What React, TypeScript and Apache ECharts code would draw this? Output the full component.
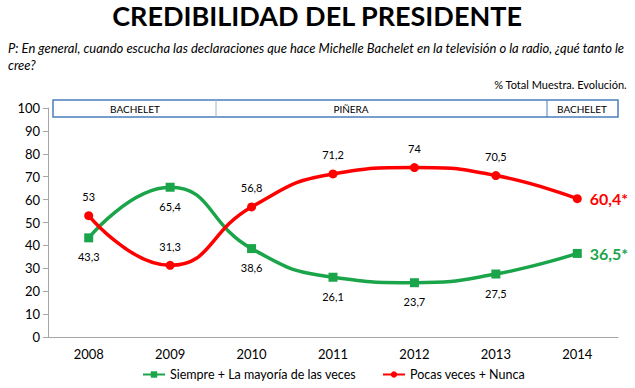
import React, { useEffect, useRef } from "react";
import * as echarts from "echarts";

const years = ["2008", "2009", "2010", "2011", "2012", "2013", "2014"];
const siempre = [43.3, 65.4, 38.6, 26.1, 23.7, 27.5, 36.5];
const pocas = [53, 31.3, 56.8, 71.2, 74, 70.5, 60.4];
const periods = ["BACHELET", "PIÑERA", "BACHELET"];
const FONT = "Lato";
const GREEN = "#1ba54b";
const RED = "#ff0000";

const fmt = (v: number) => String(v).replace(".", ",");

export default function App() {
  const ref = useRef<HTMLDivElement>(null);
  useEffect(() => {
    const chart = echarts.init(ref.current!, null, { renderer: "svg" });
    const last = years.length - 1;
    chart.setOption({
      animation: false,
      textStyle: { fontFamily: FONT },
      grid: { left: 48, right: 17, top: 108, bottom: 51 },
      xAxis: {
        type: "category",
        data: years,
        boundaryGap: true,
        axisLine: { lineStyle: { color: "#a6a6a6" } },
        axisTick: { lineStyle: { color: "#a6a6a6" }, length: 5 },
        axisLabel: { color: "#000", fontSize: 13, margin: 10, fontFamily: FONT },
      },
      yAxis: {
        type: "value",
        min: 0,
        max: 100,
        interval: 10,
        splitLine: { show: false },
        axisLine: { show: true, lineStyle: { color: "#a6a6a6" } },
        axisTick: { show: true, lineStyle: { color: "#a6a6a6" }, length: 5 },
        axisLabel: { color: "#000", fontSize: 13, margin: 8, fontFamily: FONT },
      },
      legend: {
        bottom: 2,
        left: 137,
        itemGap: 26,
        itemWidth: 22,
        itemHeight: 8,
        textStyle: { fontSize: 12.5, color: "#000", fontFamily: FONT },
        data: ["Siempre + La mayoría de las veces", "Pocas veces + Nunca"],
      },
      graphic: [
        {
          type: "text",
          left: "center",
          top: 2,
          style: { text: "CREDIBILIDAD DEL PRESIDENTE", font: `bold 27px ${FONT}`, fill: "#000" },
        },
        {
          type: "text",
          left: 8,
          top: 39,
          style: {
            text:
              "P: En general, cuando escucha las declaraciones que hace Michelle Bachelet en la televisión o la radio, ¿qué tanto le\ncree?",
            font: `italic 13px ${FONT}`,
            lineHeight: 17,
            fill: "#000",
          },
        },
        {
          type: "text",
          right: 8,
          top: 79,
          style: { text: "% Total Muestra. Evolución.", font: `11px ${FONT}`, fill: "#000" },
        },
        {
          type: "rect",
          shape: { x: 53, y: 100, width: 565, height: 17 },
          style: { fill: "#fff", stroke: "#4a7ebb", lineWidth: 1.5 },
        },
        { type: "line", shape: { x1: 216, y1: 100, x2: 216, y2: 117 }, style: { stroke: "#9fb4cc", lineWidth: 1 } },
        { type: "line", shape: { x1: 547, y1: 100, x2: 547, y2: 117 }, style: { stroke: "#4a7ebb", lineWidth: 1 } },
        {
          type: "text", x: 135, y: 109,
          style: { text: periods[0], font: `10px ${FONT}`, fill: "#000", align: "center", verticalAlign: "middle" },
        },
        {
          type: "text", x: 351, y: 109,
          style: { text: periods[1], font: `10px ${FONT}`, fill: "#000", align: "center", verticalAlign: "middle" },
        },
        {
          type: "text", x: 582, y: 109,
          style: { text: periods[2], font: `10px ${FONT}`, fill: "#000", align: "center", verticalAlign: "middle" },
        },
      ],
      series: [
        {
          name: "Siempre + La mayoría de las veces",
          type: "line",
          smooth: 0.5,
          data: siempre.map((v, i) =>
            i === last
              ? {
                  value: v,
                  label: {
                    position: "right",
                    distance: 8,
                    fontSize: 16,
                    fontWeight: "bold",
                    color: GREEN,
                    formatter: () => fmt(v) + "*",
                  },
                }
              : v
          ),
          symbol: "rect",
          symbolSize: 9,
          lineStyle: { color: GREEN, width: 3.5 },
          itemStyle: { color: GREEN },
          label: {
            show: true,
            position: "bottom",
            distance: 9,
            fontSize: 11,
            color: "#000",
            fontFamily: FONT,
            formatter: (p: any) => fmt(p.value),
          },
        },
        {
          name: "Pocas veces + Nunca",
          type: "line",
          smooth: 0.5,
          data: pocas.map((v, i) =>
            i === last
              ? {
                  value: v,
                  label: {
                    position: "right",
                    distance: 8,
                    fontSize: 16,
                    fontWeight: "bold",
                    color: RED,
                    formatter: () => fmt(v) + "*",
                  },
                }
              : v
          ),
          symbol: "circle",
          symbolSize: 9,
          lineStyle: { color: RED, width: 3.5 },
          itemStyle: { color: RED },
          label: {
            show: true,
            position: "top",
            distance: 9,
            fontSize: 11,
            color: "#000",
            fontFamily: FONT,
            formatter: (p: any) => fmt(p.value),
          },
        },
      ],
    });
    return () => chart.dispose();
  }, []);
  return <div ref={ref} style={{ width: 635, height: 388, position: "absolute", left: 0, top: 0 }} />;
}
